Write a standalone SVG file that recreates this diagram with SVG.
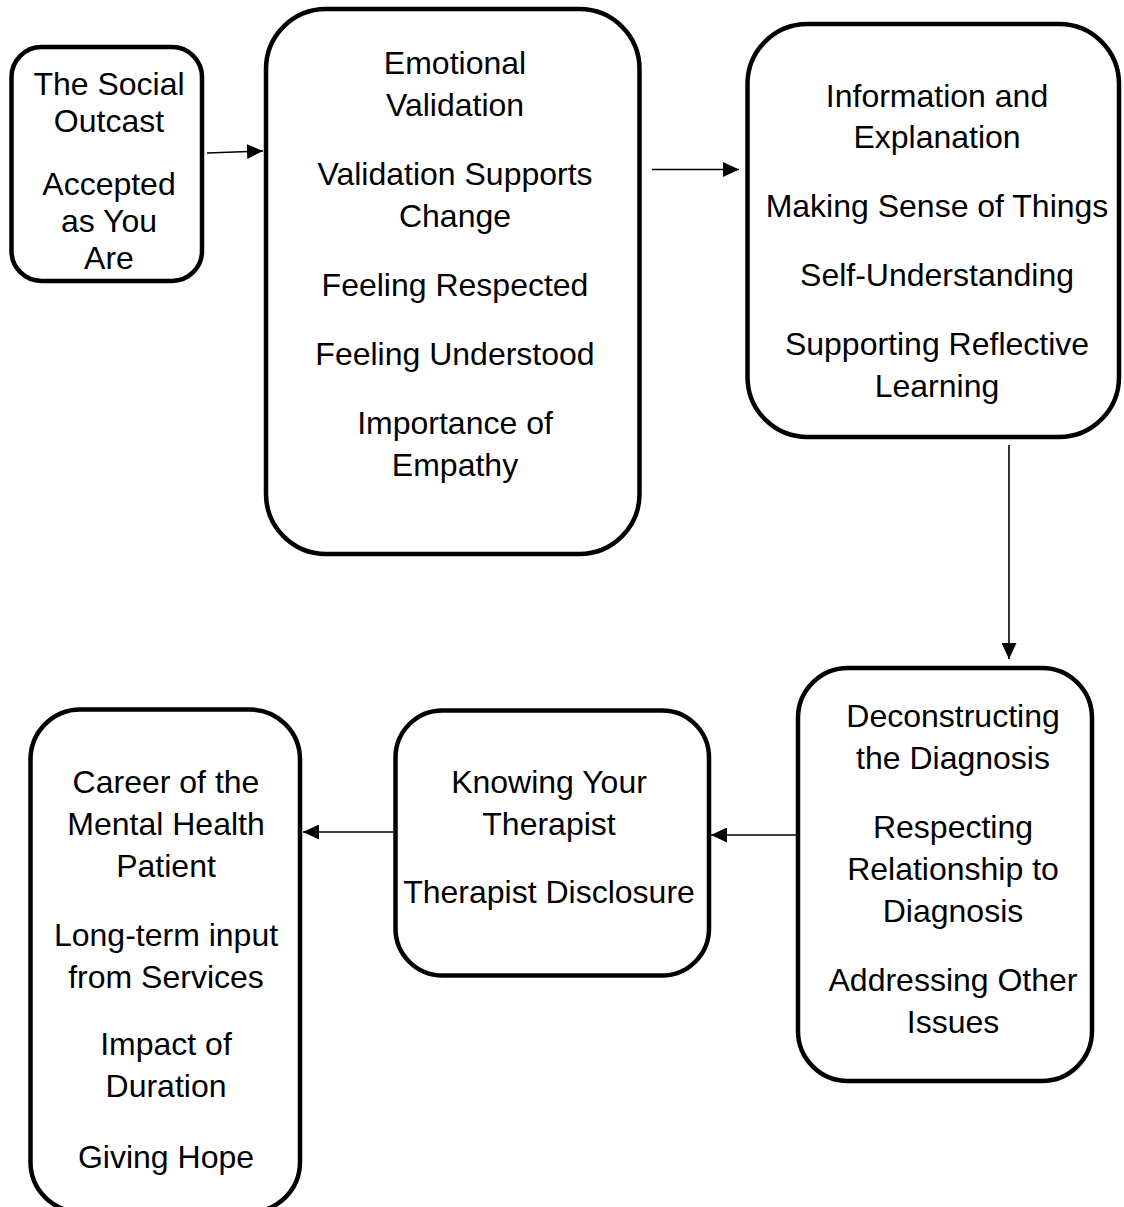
<svg xmlns="http://www.w3.org/2000/svg" width="1124" height="1207" viewBox="0 0 1124 1207">
  <defs>
    <marker id="arrowhead" markerUnits="userSpaceOnUse" markerWidth="16" markerHeight="15" refX="16" refY="7.5" orient="auto">
      <path d="M0,0 L16,7.5 L0,15 z" fill="#000"/>
    </marker>
    <style>
      .box { fill: #fff; stroke: #000; stroke-width: 4.5; }
      .label { font-family: "Liberation Sans", Arial, sans-serif; font-size: 32px; fill: #000; text-anchor: middle; }
      .link { stroke: #000; stroke-width: 1.6; fill: none; marker-end: url(#arrowhead); }
    </style>
  </defs>
  <rect width="1124" height="1207" fill="#fff"/>

  <g id="node-social-outcast">
    <rect class="box" x="11.5" y="47" width="190.5" height="234" rx="30" ry="30"/>
    <text class="label" x="109" y="95">The Social</text>
    <text class="label" x="109" y="131.5">Outcast</text>
    <text class="label" x="109" y="195">Accepted</text>
    <text class="label" x="109" y="232">as You</text>
    <text class="label" x="109" y="269">Are</text>
  </g>

  <g id="node-validation">
    <rect class="box" x="266" y="9" width="373.5" height="545" rx="60" ry="60"/>
    <text class="label" x="455" y="73.5">Emotional</text>
    <text class="label" x="455" y="116">Validation</text>
    <text class="label" x="455" y="185">Validation Supports</text>
    <text class="label" x="455" y="227">Change</text>
    <text class="label" x="455" y="296">Feeling Respected</text>
    <text class="label" x="455" y="365">Feeling Understood</text>
    <text class="label" x="455" y="434">Importance of</text>
    <text class="label" x="455" y="476">Empathy</text>
  </g>

  <g id="node-information">
    <rect class="box" x="747.5" y="24" width="371.5" height="413" rx="60" ry="60"/>
    <text class="label" x="937" y="107">Information and</text>
    <text class="label" x="937" y="148">Explanation</text>
    <text class="label" x="937" y="217">Making Sense of Things</text>
    <text class="label" x="937" y="286">Self-Understanding</text>
    <text class="label" x="937" y="355">Supporting Reflective</text>
    <text class="label" x="937" y="397">Learning</text>
  </g>

  <g id="node-diagnosis">
    <rect class="box" x="798" y="668" width="294" height="413" rx="50" ry="50"/>
    <text class="label" x="953" y="727">Deconstructing</text>
    <text class="label" x="953" y="769">the Diagnosis</text>
    <text class="label" x="953" y="838">Respecting</text>
    <text class="label" x="953" y="880">Relationship to</text>
    <text class="label" x="953" y="922">Diagnosis</text>
    <text class="label" x="953" y="991">Addressing Other</text>
    <text class="label" x="953" y="1033">Issues</text>
  </g>

  <g id="node-therapist">
    <rect class="box" x="395.5" y="710.5" width="313.5" height="265" rx="47" ry="47"/>
    <text class="label" x="549" y="793">Knowing Your</text>
    <text class="label" x="549" y="835">Therapist</text>
    <text class="label" x="549" y="903">Therapist Disclosure</text>
  </g>

  <g id="node-career">
    <rect class="box" x="30.5" y="709.5" width="269.5" height="502.5" rx="50" ry="50"/>
    <text class="label" x="166" y="793">Career of the</text>
    <text class="label" x="166" y="835">Mental Health</text>
    <text class="label" x="166" y="877">Patient</text>
    <text class="label" x="166" y="946">Long-term input</text>
    <text class="label" x="166" y="988">from Services</text>
    <text class="label" x="166" y="1055">Impact of</text>
    <text class="label" x="166" y="1097">Duration</text>
    <text class="label" x="166" y="1168">Giving Hope</text>
  </g>

  <g id="connectors">
    <line class="link" x1="207" y1="153" x2="263" y2="151"/>
    <line class="link" x1="652" y1="169.5" x2="739" y2="169.5"/>
    <line class="link" x1="1009" y1="445" x2="1009" y2="659"/>
    <line class="link" x1="797" y1="835" x2="711" y2="835"/>
    <line class="link" x1="393" y1="832" x2="303" y2="832"/>
  </g>
</svg>
